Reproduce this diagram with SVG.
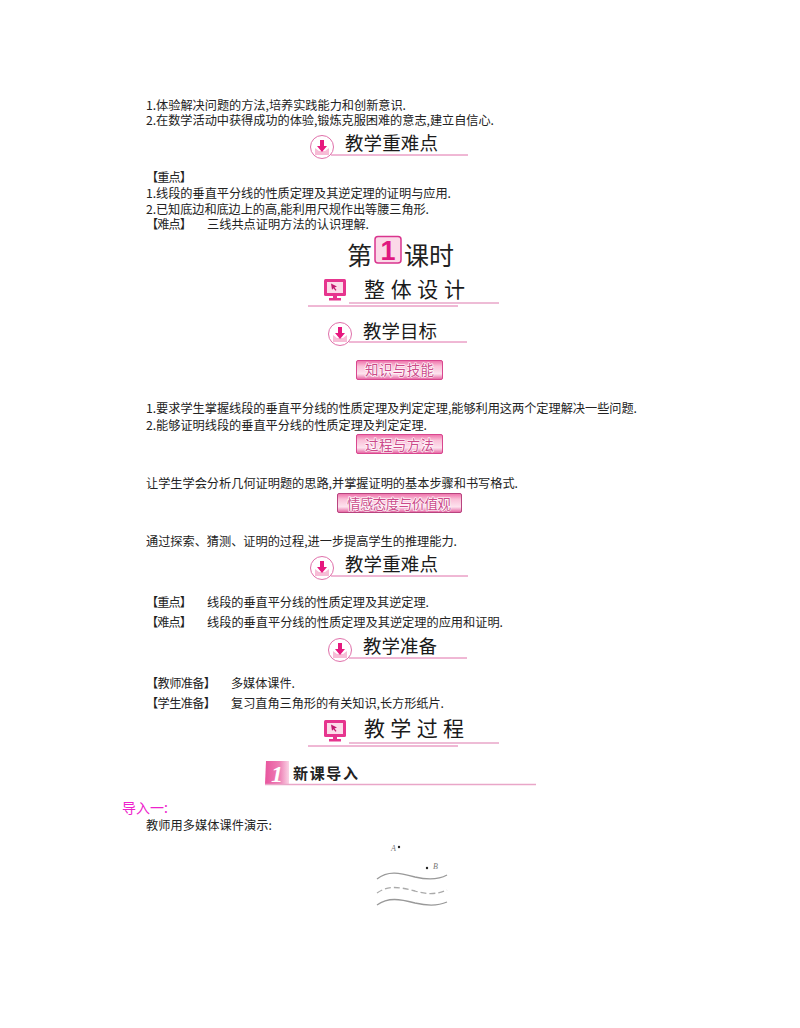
<svg xmlns="http://www.w3.org/2000/svg" xmlns:xlink="http://www.w3.org/1999/xlink" width="800" height="1028" viewBox="0 0 800 1028">
<style>
text{font-family:"Noto Sans CJK SC","Liberation Sans",sans-serif;fill:#222}
.b{font-size:12.2px}
.h{font-size:18.500px;fill:#1a1a1a}
.w{font-size:21px;fill:#1a1a1a}
.t{font-size:13.500px;fill:#cc4a8a;stroke:#fff;stroke-width:1.2px;paint-order:stroke}
.pl{fill:none;stroke:#e070aa;stroke-width:1}
.pt{fill:none;stroke:#e9a6c8;stroke-width:1.6}
</style>
<defs>
<linearGradient id="tag" x1="0" y1="0" x2="0" y2="1"><stop offset="0" stop-color="#ee6fa9"/><stop offset=".3" stop-color="#fac0d8"/><stop offset=".7" stop-color="#fde3ee"/><stop offset="1" stop-color="#e55f9f"/></linearGradient>
<linearGradient id="sec" x1="0" y1="0" x2="1" y2="0"><stop offset="0" stop-color="#e8559e"/><stop offset=".6" stop-color="#ee7fb5"/><stop offset="1" stop-color="#fad3e5"/></linearGradient>
<g id="dl">
<circle cx="0" cy="0" r="11.500" fill="#fff" stroke="#e070aa" stroke-width="1"/>
<path d="M-7 1l4 3h6l4-3v7h-14z" fill="#f7bcd6"/>
<path d="M-2-7h4v6h3l-5 6-5-6h3z" fill="#e6197f"/>
</g>
<g id="mon">
<rect x="-11" y="-11" width="22" height="17" rx="1.500" fill="#e6358e"/>
<rect x="-8" y="-8" width="16" height="11" fill="#fbdde9"/>
<path d="M-4-6.500l6 3-2.500 1 2 2.500-1 .8-2-2.500-1.500 1.500z" fill="#c2186f"/>
<rect x="-2" y="6" width="4" height="2" fill="#e6358e"/>
<rect x="-6" y="8" width="12" height="2.500" fill="#e6358e"/>
</g>
</defs>

<g id="goals-top">
<text class="b" x="146" y="110" textLength="260">1.体验解决问题的方法,培养实践能力和创新意识.</text>
<text class="b" x="146" y="125" textLength="348">2.在数学活动中获得成功的体验,锻炼克服困难的意志,建立自信心.</text>
</g>
<g id="head-1">
<use xlink:href="#dl" x="322" y="147"/>
<path class="pl" d="M331 155H468"/>
<text class="h" x="345" y="150" textLength="93">教学重难点</text>
</g>
<g id="key-1">
<text class="b" x="146" y="182" textLength="46">【重点】</text>
<text class="b" x="146" y="198" textLength="305">1.线段的垂直平分线的性质定理及其逆定理的证明与应用.</text>
<text class="b" x="146" y="214" textLength="283">2.已知底边和底边上的高,能利用尺规作出等腰三角形.</text>
<text class="b" x="146" y="229" textLength="46">【难点】</text>
<text class="b" x="207" y="229" textLength="162">三线共点证明方法的认识理解.</text>
</g>
<g id="lesson-title">
<text x="347" y="265" font-size="25" textLength="26">第</text>
<rect x="375" y="236.500" width="26" height="26.500" rx="3" fill="#fbd9e8" stroke="#d9358e" stroke-width="1.500"/>
<text x="388" y="260" font-size="27" text-anchor="middle" style="font-family:'Liberation Sans',sans-serif;fill:#e0187f;font-weight:700">1</text>
<text x="404" y="265" font-size="25" textLength="50">课时</text>
</g>
<g id="head-2">
<use xlink:href="#mon" x="335" y="290"/>
<path class="pt" d="M349 303H499"/>
<path class="pl" d="M308 306H458"/>
<text class="w" x="364" y="297" textLength="101">整 体 设 计</text>
</g>
<g id="head-3">
<use xlink:href="#dl" x="340" y="334"/>
<path class="pl" d="M349 342H467"/>
<text class="h" x="363" y="338" textLength="74">教学目标</text>
</g>
<g id="tag-1">
<rect x="356.500" y="360.500" width="86" height="19" rx="1.500" fill="url(#tag)" stroke="#d9478f"/>
<text class="t" x="365" y="375" textLength="69">知识与技能</text>
</g>
<g id="body-1">
<text class="b" x="146" y="413" textLength="491">1.要求学生掌握线段的垂直平分线的性质定理及判定定理,能够利用这两个定理解决一些问题.</text>
<text class="b" x="146" y="430" textLength="281">2.能够证明线段的垂直平分线的性质定理及判定定理.</text>
</g>
<g id="tag-2">
<rect x="356.500" y="434.500" width="86" height="19" rx="1.500" fill="url(#tag)" stroke="#d9478f"/>
<text class="t" x="365" y="450" textLength="69">过程与方法</text>
</g>
<g id="body-2">
<text class="b" x="146" y="488" textLength="372">让学生学会分析几何证明题的思路,并掌握证明的基本步骤和书写格式.</text>
</g>
<g id="tag-3">
<rect x="337.500" y="493.500" width="124" height="19" rx="1.500" fill="url(#tag)" stroke="#b8447f"/>
<text class="t" x="347" y="509" textLength="104">情感态度与价值观</text>
</g>
<g id="body-3">
<text class="b" x="146" y="546" textLength="311">通过探索、猜测、证明的过程,进一步提高学生的推理能力.</text>
</g>
<g id="head-4">
<use xlink:href="#dl" x="322" y="568"/>
<path class="pl" d="M331 576H468"/>
<text class="h" x="345" y="571" textLength="93">教学重难点</text>
</g>
<g id="key-2">
<text class="b" x="146" y="607" textLength="46">【重点】</text>
<text class="b" x="207" y="607" textLength="222">线段的垂直平分线的性质定理及其逆定理.</text>
<text class="b" x="146" y="627" textLength="46">【难点】</text>
<text class="b" x="207" y="627" textLength="296">线段的垂直平分线的性质定理及其逆定理的应用和证明.</text>
</g>
<g id="head-5">
<use xlink:href="#dl" x="340" y="650"/>
<path class="pl" d="M349 658H467"/>
<text class="h" x="363" y="653" textLength="74">教学准备</text>
</g>
<g id="prep">
<text class="b" x="146" y="688" textLength="70">【教师准备】</text>
<text class="b" x="231" y="688" textLength="64">多媒体课件.</text>
<text class="b" x="146" y="708" textLength="70">【学生准备】</text>
<text class="b" x="231" y="708" textLength="213">复习直角三角形的有关知识,长方形纸片.</text>
</g>
<g id="head-6">
<use xlink:href="#mon" x="335" y="731"/>
<path class="pt" d="M349 743H499"/>
<path class="pl" d="M308 746H458"/>
<text class="w" x="364" y="736" textLength="100">教 学 过 程</text>
</g>
<g id="section-1">
<path d="M266 761H289V784H265Z" fill="url(#sec)"/>
<text x="271" y="782" font-size="24" style="font-family:'Liberation Serif',serif;fill:#fff;font-weight:700;font-style:italic">1</text>
<path d="M265 784.500H536" fill="none" stroke="#e9a6c8" stroke-width="1.500"/>
<text x="293" y="779" font-size="15" font-weight="700" fill="#111" textLength="65">新课导入</text>
</g>
<g id="intro">
<text x="122" y="813" font-size="14" style="fill:#ee22cc" textLength="46">导入一:</text>
<text class="b" x="146" y="830" textLength="126">教师用多媒体课件演示:</text>
</g>
<g id="figure">
<text x="391" y="851" font-size="8" style="font-family:'Liberation Serif',serif;fill:#777;font-style:italic">A</text>
<circle cx="399" cy="847" r="1.200" fill="#222"/>
<circle cx="427" cy="868" r="1.200" fill="#222"/>
<text x="433" y="869" font-size="8" style="font-family:'Liberation Serif',serif;fill:#777;font-style:italic">B</text>
<path d="M377 879C388 870 400 873 415 877C428 880 438 880 447 875" fill="none" stroke="#999" stroke-width="1.300"/>
<path d="M377 893C388 885 400 887 415 891C428 895 438 894 447 890" fill="none" stroke="#aaa" stroke-width="1.300" stroke-dasharray="6 3"/>
<path d="M377 905C388 897 400 899 415 903C428 906 438 906 447 902" fill="none" stroke="#999" stroke-width="1.300"/>
</g>
</svg>
